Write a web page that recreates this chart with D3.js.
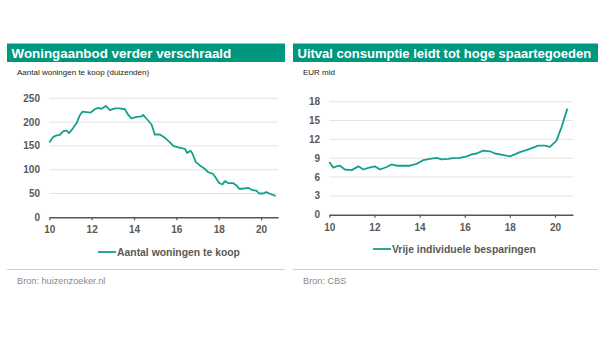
<!DOCTYPE html>
<html>
<head>
<meta charset="utf-8">
<script src="https://cdn.jsdelivr.net/npm/d3@7"></script>
<style>
  body { margin: 0; background: #fff; }
  svg { display: block; font-family: "Liberation Sans", Arial, sans-serif; }
</style>
</head>
<body>
<div id="chart"></div>
<script>
// Woningaanbod (duizenden), year as decimal (10 = 2010)
const aanbodYears = [10.00, 10.19, 10.35, 10.50, 10.66, 10.82, 10.93, 11.05, 11.29, 11.45, 11.57, 11.76, 11.95,
  12.15, 12.31, 12.47, 12.67, 12.86, 13.10, 13.33, 13.57, 13.73, 13.88, 14.12, 14.36, 14.43, 14.59, 14.83,
  14.98, 15.22, 15.46, 15.69, 15.85, 16.09, 16.40, 16.51, 16.67, 16.76, 16.92, 17.11, 17.34, 17.50, 17.74,
  17.89, 18.02, 18.18, 18.29, 18.44, 18.68, 18.84, 18.96, 19.15, 19.39, 19.59, 19.78, 19.91, 20.09, 20.25,
  20.44, 20.69];
const aanbodValues = [157, 169, 172, 173, 181, 182, 177, 183, 198, 215, 222, 221, 220,
  227, 230, 228, 234, 225, 229, 229, 227, 215, 208, 211, 212, 215, 207, 195,
  174, 174, 167, 158, 150, 147, 144, 135, 140, 134, 116, 109, 102, 95, 91,
  81, 72, 69, 76, 72, 72, 67, 60, 60, 62, 57, 56, 50, 50, 53,
  49, 45];

// Vrije individuele besparingen (EUR mld)
const besparingYears = [10.00, 10.18, 10.32, 10.47, 10.69, 10.99, 11.29, 11.51, 11.73, 12.02, 12.25, 12.54,
  12.76, 12.98, 13.28, 13.57, 13.87, 14.17, 14.46, 14.76, 14.98, 15.27, 15.49, 15.79, 16.09, 16.31, 16.53,
  16.82, 17.12, 17.34, 17.56, 18.01, 18.45, 18.89, 19.26, 19.56, 19.78, 20.07, 20.19, 20.30, 20.40, 20.55];
const besparingValues = [8.4, 7.5, 7.7, 7.8, 7.2, 7.1, 7.7, 7.2, 7.45, 7.7, 7.2, 7.6,
  8.0, 7.8, 7.8, 7.8, 8.1, 8.7, 8.9, 9.05, 8.8, 8.9, 9.0, 9.05, 9.3, 9.6, 9.75,
  10.2, 10.1, 9.75, 9.6, 9.3, 9.96, 10.5, 11.0, 11.0, 10.8, 11.8, 13.0, 14.0, 15.2, 16.9];

const xTicks = [10, 12, 14, 16, 18, 20];
const aanbodTicks = [0, 50, 100, 150, 200, 250];
const besparingTicks = [0, 3, 6, 9, 12, 15, 18];

const teal = "#00977f";
const lineColor = "#14a08b";
const labelGrey = "#595959";

class LinePanel {
  constructor(_config, _data) {
    this.config = _config;
    this.data = _data;
    this.initVis();
  }

  initVis() {
    let vis = this;
    const c = vis.config;
    vis.g = c.svg.append("g");

    // Title bar
    vis.g.append("rect")
      .attr("x", c.left).attr("y", 43.5)
      .attr("width", c.right - c.left).attr("height", 18.5)
      .attr("fill", teal);
    const title = vis.g.append("text")
      .attr("x", c.left + 4.5).attr("y", 57.5)
      .attr("fill", "#fff")
      .attr("font-size", 13.5)
      .attr("font-weight", "bold")
      .text(c.title);
    // shrink font so the title fits the bar like in the original
    const natural = title.node().getComputedTextLength();
    if (natural > c.titleWidth) {
      title.attr("font-size", (13.5 * c.titleWidth) / natural);
    }

    vis.g.append("text")
      .attr("x", c.left + 10).attr("y", 75)
      .attr("fill", "#222")
      .attr("font-size", 8)
      .text(c.subtitle);

    vis.x = d3.scaleLinear().domain([10, 20.8]).range(c.xRange);
    vis.y = d3.scaleLinear().domain(c.yDomain).range(c.yRange);

    // Gridlines
    vis.g.append("g")
      .selectAll("line")
      .data(c.yTicks.slice(1))
      .join("line")
      .attr("x1", vis.x(10)).attr("x2", vis.x(20.8))
      .attr("y1", (d) => vis.y(d)).attr("y2", (d) => vis.y(d))
      .attr("stroke", "#e3e3e3")
      .attr("stroke-width", 1);

    // Y labels
    vis.g.append("g")
      .selectAll("text")
      .data(c.yTicks)
      .join("text")
      .attr("x", c.yLabelX)
      .attr("y", (d) => vis.y(d) + 3.5)
      .attr("text-anchor", "end")
      .attr("font-size", 10)
      .attr("font-weight", "bold")
      .attr("fill", labelGrey)
      .text((d) => d);

    // X axis
    const xAxis = d3.axisBottom(vis.x)
      .tickValues(xTicks)
      .tickSize(3)
      .tickSizeOuter(0)
      .tickPadding(6)
      .tickFormat((d) => d);
    const axisG = vis.g.append("g")
      .attr("transform", `translate(0,${vis.y(0)})`)
      .call(xAxis);
    axisG.select(".domain").attr("stroke", "#555").attr("stroke-width", 1.5);
    axisG.selectAll(".tick line").attr("stroke", "#555").attr("stroke-width", 1.2);
    axisG.selectAll(".tick text")
      .attr("font-size", 10)
      .attr("font-weight", "bold")
      .attr("font-family", "Liberation Sans, Arial, sans-serif")
      .attr("fill", labelGrey);

    // Series line
    const line = d3.line()
      .x((d) => vis.x(d[0]))
      .y((d) => vis.y(d[1]));
    vis.g.append("path")
      .datum(vis.data)
      .attr("d", line)
      .attr("fill", "none")
      .attr("stroke", lineColor)
      .attr("stroke-width", 1.8)
      .attr("stroke-linejoin", "round");

    // Legend
    vis.g.append("line")
      .attr("x1", c.legendX).attr("x2", c.legendX + 18)
      .attr("y1", c.legendY).attr("y2", c.legendY)
      .attr("stroke", lineColor)
      .attr("stroke-width", 1.8);
    vis.g.append("text")
      .attr("x", c.legendX + 19).attr("y", c.legendY + 3.6)
      .attr("font-size", 10.4)
      .attr("font-weight", "bold")
      .attr("fill", labelGrey)
      .text(c.legend);

    // Separator and source
    vis.g.append("line")
      .attr("x1", c.left).attr("x2", c.right)
      .attr("y1", 269.5).attr("y2", 269.5)
      .attr("stroke", "#d0d0d0")
      .attr("stroke-width", 1);
    vis.g.append("text")
      .attr("x", c.left + 10).attr("y", 284)
      .attr("font-size", 9.2)
      .attr("fill", "#8a8a8a")
      .text(c.source);
  }
}

const svg = d3.select("#chart")
  .append("svg")
  .attr("width", 600)
  .attr("height", 339);

new LinePanel({
  svg: svg,
  left: 7, right: 285,
  title: "Woningaanbod verder verschraald",
  titleWidth: 220,
  subtitle: "Aantal woningen te koop (duizenden)",
  xRange: [49.3, 278],
  yDomain: [0, 250], yRange: [217.3, 98.3],
  yTicks: aanbodTicks, yLabelX: 40,
  legend: "Aantal woningen te koop",
  legendX: 98, legendY: 252,
  source: "Bron: huizenzoeker.nl"
}, d3.zip(aanbodYears, aanbodValues));

new LinePanel({
  svg: svg,
  left: 293, right: 598,
  title: "Uitval consumptie leidt tot hoge spaartegoeden",
  titleWidth: 294,
  subtitle: "EUR mld",
  xRange: [329.3, 573],
  yDomain: [0, 18], yRange: [214.7, 101.7],
  yTicks: besparingTicks, yLabelX: 320,
  legend: "Vrije individuele besparingen",
  legendX: 373, legendY: 249,
  source: "Bron: CBS"
}, d3.zip(besparingYears, besparingValues));
</script>
</body>
</html>
